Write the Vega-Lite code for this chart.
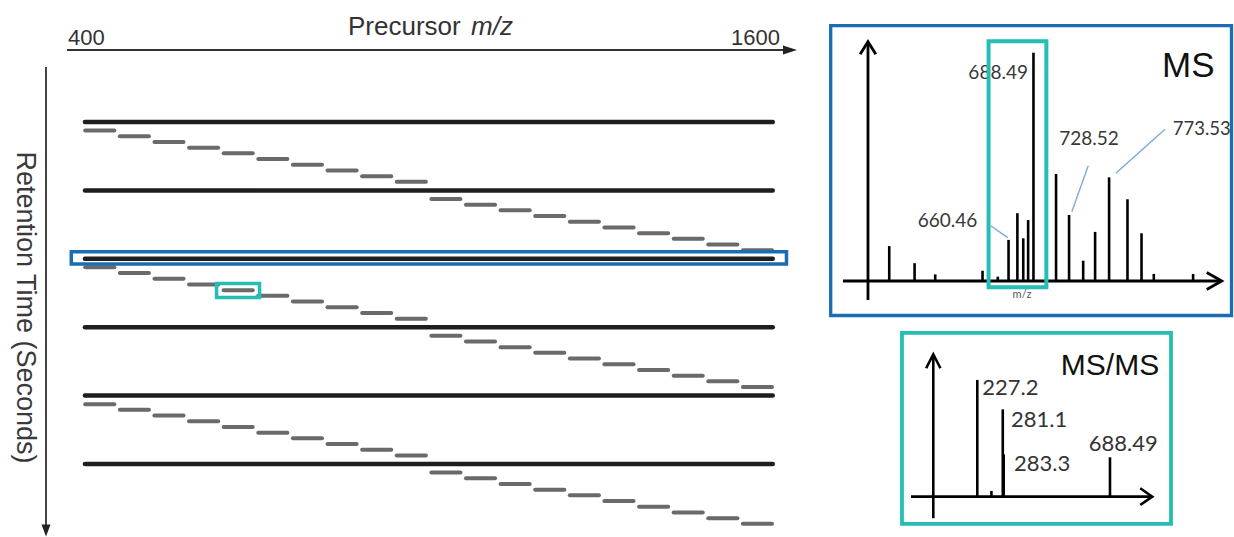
{
  "$schema": "https://vega.github.io/schema/vega-lite/v6.json",
  "width": 1234,
  "height": 537,
  "autosize": {"type": "none"},
  "padding": 0,
  "background": "white",
  "config": {"view": {"stroke": null}, "font": "Liberation Sans"},
  "datasets": {
    "scans": [
      {"type": "MS1", "mz_lo": 400, "mz_hi": 1600, "t": 1.0},
      {"type": "MS1", "mz_lo": 400, "mz_hi": 1600, "t": 2.2},
      {"type": "MS1", "mz_lo": 400, "mz_hi": 1600, "t": 3.4},
      {"type": "MS1", "mz_lo": 400, "mz_hi": 1600, "t": 4.6},
      {"type": "MS1", "mz_lo": 400, "mz_hi": 1600, "t": 5.8},
      {"type": "MS1", "mz_lo": 400, "mz_hi": 1600, "t": 7.0},
      {"type": "MS2", "mz_lo": 400, "mz_hi": 460, "t": 1.15},
      {"type": "MS2", "mz_lo": 460, "mz_hi": 520, "t": 1.25},
      {"type": "MS2", "mz_lo": 520, "mz_hi": 580, "t": 1.35},
      {"type": "MS2", "mz_lo": 580, "mz_hi": 640, "t": 1.45},
      {"type": "MS2", "mz_lo": 640, "mz_hi": 700, "t": 1.55},
      {"type": "MS2", "mz_lo": 700, "mz_hi": 760, "t": 1.65},
      {"type": "MS2", "mz_lo": 760, "mz_hi": 820, "t": 1.75},
      {"type": "MS2", "mz_lo": 820, "mz_hi": 880, "t": 1.85},
      {"type": "MS2", "mz_lo": 880, "mz_hi": 940, "t": 1.95},
      {"type": "MS2", "mz_lo": 940, "mz_hi": 1000, "t": 2.05},
      {"type": "MS2", "mz_lo": 1000, "mz_hi": 1060, "t": 2.35},
      {"type": "MS2", "mz_lo": 1060, "mz_hi": 1120, "t": 2.45},
      {"type": "MS2", "mz_lo": 1120, "mz_hi": 1180, "t": 2.55},
      {"type": "MS2", "mz_lo": 1180, "mz_hi": 1240, "t": 2.65},
      {"type": "MS2", "mz_lo": 1240, "mz_hi": 1300, "t": 2.75},
      {"type": "MS2", "mz_lo": 1300, "mz_hi": 1360, "t": 2.85},
      {"type": "MS2", "mz_lo": 1360, "mz_hi": 1420, "t": 2.95},
      {"type": "MS2", "mz_lo": 1420, "mz_hi": 1480, "t": 3.05},
      {"type": "MS2", "mz_lo": 1480, "mz_hi": 1540, "t": 3.15},
      {"type": "MS2", "mz_lo": 1540, "mz_hi": 1600, "t": 3.25},
      {"type": "MS2", "mz_lo": 400, "mz_hi": 460, "t": 3.55},
      {"type": "MS2", "mz_lo": 460, "mz_hi": 520, "t": 3.65},
      {"type": "MS2", "mz_lo": 520, "mz_hi": 580, "t": 3.75},
      {"type": "MS2", "mz_lo": 580, "mz_hi": 640, "t": 3.85},
      {"type": "MS2", "mz_lo": 640, "mz_hi": 700, "t": 3.95},
      {"type": "MS2", "mz_lo": 700, "mz_hi": 760, "t": 4.05},
      {"type": "MS2", "mz_lo": 760, "mz_hi": 820, "t": 4.15},
      {"type": "MS2", "mz_lo": 820, "mz_hi": 880, "t": 4.25},
      {"type": "MS2", "mz_lo": 880, "mz_hi": 940, "t": 4.35},
      {"type": "MS2", "mz_lo": 940, "mz_hi": 1000, "t": 4.45},
      {"type": "MS2", "mz_lo": 1000, "mz_hi": 1060, "t": 4.75},
      {"type": "MS2", "mz_lo": 1060, "mz_hi": 1120, "t": 4.85},
      {"type": "MS2", "mz_lo": 1120, "mz_hi": 1180, "t": 4.95},
      {"type": "MS2", "mz_lo": 1180, "mz_hi": 1240, "t": 5.05},
      {"type": "MS2", "mz_lo": 1240, "mz_hi": 1300, "t": 5.15},
      {"type": "MS2", "mz_lo": 1300, "mz_hi": 1360, "t": 5.25},
      {"type": "MS2", "mz_lo": 1360, "mz_hi": 1420, "t": 5.35},
      {"type": "MS2", "mz_lo": 1420, "mz_hi": 1480, "t": 5.45},
      {"type": "MS2", "mz_lo": 1480, "mz_hi": 1540, "t": 5.55},
      {"type": "MS2", "mz_lo": 1540, "mz_hi": 1600, "t": 5.65},
      {"type": "MS2", "mz_lo": 400, "mz_hi": 460, "t": 5.95},
      {"type": "MS2", "mz_lo": 460, "mz_hi": 520, "t": 6.05},
      {"type": "MS2", "mz_lo": 520, "mz_hi": 580, "t": 6.15},
      {"type": "MS2", "mz_lo": 580, "mz_hi": 640, "t": 6.25},
      {"type": "MS2", "mz_lo": 640, "mz_hi": 700, "t": 6.35},
      {"type": "MS2", "mz_lo": 700, "mz_hi": 760, "t": 6.45},
      {"type": "MS2", "mz_lo": 760, "mz_hi": 820, "t": 6.55},
      {"type": "MS2", "mz_lo": 820, "mz_hi": 880, "t": 6.65},
      {"type": "MS2", "mz_lo": 880, "mz_hi": 940, "t": 6.75},
      {"type": "MS2", "mz_lo": 940, "mz_hi": 1000, "t": 6.85},
      {"type": "MS2", "mz_lo": 1000, "mz_hi": 1060, "t": 7.15},
      {"type": "MS2", "mz_lo": 1060, "mz_hi": 1120, "t": 7.25},
      {"type": "MS2", "mz_lo": 1120, "mz_hi": 1180, "t": 7.35},
      {"type": "MS2", "mz_lo": 1180, "mz_hi": 1240, "t": 7.45},
      {"type": "MS2", "mz_lo": 1240, "mz_hi": 1300, "t": 7.55},
      {"type": "MS2", "mz_lo": 1300, "mz_hi": 1360, "t": 7.65},
      {"type": "MS2", "mz_lo": 1360, "mz_hi": 1420, "t": 7.75},
      {"type": "MS2", "mz_lo": 1420, "mz_hi": 1480, "t": 7.85},
      {"type": "MS2", "mz_lo": 1480, "mz_hi": 1540, "t": 7.95},
      {"type": "MS2", "mz_lo": 1540, "mz_hi": 1600, "t": 8.05}
    ],
    "left_boxes": [
      {"panel": "MS", "mz_lo": 380.2, "mz_hi": 1619.9, "t_lo": 3.275, "t_hi": 3.49},
      {"panel": "MS/MS", "mz_lo": 632, "mz_hi": 706.5, "t_lo": 3.833, "t_hi": 4.079}
    ],
    "ms_peaks": [
      {"mz": 526.3, "intensity": 15.3},
      {"mz": 554.8, "intensity": 7.8},
      {"mz": 578.0, "intensity": 2.9},
      {"mz": 631.2, "intensity": 4.5},
      {"mz": 648.4, "intensity": 1.9},
      {"mz": 660.46, "intensity": 18.0},
      {"mz": 670.4, "intensity": 29.7},
      {"mz": 677.0, "intensity": 18.7},
      {"mz": 682.5, "intensity": 26.7},
      {"mz": 688.49, "intensity": 100},
      {"mz": 713.9, "intensity": 46.9},
      {"mz": 728.52, "intensity": 28.9},
      {"mz": 744.4, "intensity": 8.9},
      {"mz": 757.8, "intensity": 21.5},
      {"mz": 773.53, "intensity": 45.4},
      {"mz": 794.2, "intensity": 35.8},
      {"mz": 810.0, "intensity": 20.9},
      {"mz": 823.8, "intensity": 3.1},
      {"mz": 868.0, "intensity": 3.1}
    ],
    "ms_labels": [
      {"label": "660.46", "label_mz": 625.3, "label_int": 26.3, "from_mz": 640.4, "from_int": 24.2, "to_mz": 659.5, "to_int": 19.0},
      {"label": "688.49", "label_mz": 682.3, "label_int": 91.0},
      {"label": "728.52", "label_mz": 750.9, "label_int": 62.2, "from_mz": 750.1, "from_int": 50.5, "to_mz": 731.6, "to_int": 30.3},
      {"label": "773.53", "label_mz": 845.1, "label_int": 66.6, "from_mz": 836.4, "from_int": 66.5, "to_mz": 781.1, "to_int": 47.2}
    ],
    "msms_peaks": [
      {"mz": 227.2, "intensity": 100, "label": "227.2", "label_mz": 236.9, "label_int": 92.9},
      {"mz": 255.7, "intensity": 4.9},
      {"mz": 281.1, "intensity": 74.8, "label": "281.1", "label_mz": 301.1, "label_int": 65.7},
      {"mz": 283.3, "intensity": 36.2, "label": "283.3", "label_mz": 308.7, "label_int": 27.8},
      {"mz": 688.49, "intensity": 33.7, "label": "688.49", "label_mz": 769.5, "label_int": 44.9}
    ]
  },
  "layer": [
    {
      "layer": [
        {
          "data": {"name": "scans"},
          "transform": [{"filter": "datum.type == 'MS1'"}],
          "mark": {"type": "rule", "stroke": "#1e1e1e", "strokeWidth": 4.5, "strokeCap": "round", "xOffset": 2.25, "x2Offset": -2.25},
          "encoding": {
            "x": {"field": "mz_lo", "type": "quantitative", "scale": {"domain": [256.65, 2395.6], "nice": false, "zero": false}, "axis": null},
            "x2": {"field": "mz_hi"},
            "y": {"field": "t", "type": "quantitative", "scale": {"domain": [-1.1404, 8.2807], "reverse": true, "nice": false, "zero": false}, "axis": null}
          }
        },
        {
          "data": {"name": "scans"},
          "transform": [{"filter": "datum.type == 'MS2'"}],
          "mark": {"type": "rule", "stroke": "#6a6a6a", "strokeWidth": 4, "strokeCap": "round", "xOffset": 2.5, "x2Offset": -3},
          "encoding": {
            "x": {"field": "mz_lo", "type": "quantitative", "scale": {"domain": [256.65, 2395.6], "nice": false, "zero": false}, "axis": null},
            "x2": {"field": "mz_hi"},
            "y": {"field": "t", "type": "quantitative", "scale": {"domain": [-1.1404, 8.2807], "reverse": true, "nice": false, "zero": false}, "axis": null}
          }
        },
        {
          "data": {"name": "left_boxes"},
          "mark": {"type": "rect", "filled": false, "strokeWidth": 3.5},
          "encoding": {
            "x": {"field": "mz_lo", "type": "quantitative", "scale": {"domain": [256.65, 2395.6], "nice": false, "zero": false}, "axis": null},
            "x2": {"field": "mz_hi"},
            "y": {"field": "t_lo", "type": "quantitative", "scale": {"domain": [-1.1404, 8.2807], "reverse": true, "nice": false, "zero": false}, "axis": null},
            "y2": {"field": "t_hi"},
            "color": {"field": "panel", "type": "nominal", "scale": {"domain": ["MS", "MS/MS"], "range": ["#1b6db3", "#26bdb4"]}, "legend": null}
          }
        },
        {
          "data": {"values": [{}]},
          "mark": {"type": "rule", "stroke": "#333333", "strokeWidth": 2},
          "encoding": {
            "x": {"datum": 372.8, "type": "quantitative", "scale": {"domain": [256.65, 2395.6], "nice": false, "zero": false}, "axis": null},
            "x2": {"datum": 1626},
            "y": {"datum": -0.263, "type": "quantitative", "scale": {"domain": [-1.1404, 8.2807], "reverse": true, "nice": false, "zero": false}, "axis": null}
          }
        },
        {
          "data": {"values": [{}]},
          "mark": {"type": "point", "shape": "M -1 -0.65 L 1 0 L -1 0.65 Z", "size": 196, "filled": true, "fill": "#222222", "opacity": 1, "strokeWidth": 0},
          "encoding": {
            "x": {"datum": 1626.0, "type": "quantitative", "scale": {"domain": [256.65, 2395.6], "nice": false, "zero": false}, "axis": null},
            "y": {"datum": -0.263, "type": "quantitative", "scale": {"domain": [-1.1404, 8.2807], "reverse": true, "nice": false, "zero": false}, "axis": null}
          }
        },
        {
          "data": {"values": [{}]},
          "mark": {"type": "rule", "stroke": "#444444", "strokeWidth": 2},
          "encoding": {
            "x": {"datum": 336.4, "type": "quantitative", "scale": {"domain": [256.65, 2395.6], "nice": false, "zero": false}, "axis": null},
            "y": {"datum": 0.035, "type": "quantitative", "scale": {"domain": [-1.1404, 8.2807], "reverse": true, "nice": false, "zero": false}, "axis": null},
            "y2": {"datum": 8.15}
          }
        },
        {
          "data": {"values": [{}]},
          "mark": {"type": "point", "shape": "M -0.75 -1 L 0 1 L 0.75 -1 Z", "size": 144, "filled": true, "fill": "#222222", "opacity": 1, "strokeWidth": 0},
          "encoding": {
            "x": {"datum": 336.4, "type": "quantitative", "scale": {"domain": [256.65, 2395.6], "nice": false, "zero": false}, "axis": null},
            "y": {"datum": 8.167, "type": "quantitative", "scale": {"domain": [-1.1404, 8.2807], "reverse": true, "nice": false, "zero": false}, "axis": null}
          }
        },
        {
          "data": {"values": [{}]},
          "mark": {"type": "text", "text": "400", "align": "left", "baseline": "alphabetic", "fontSize": 22, "fill": "#333333"},
          "encoding": {
            "x": {"datum": 374.5, "type": "quantitative", "scale": {"domain": [256.65, 2395.6], "nice": false, "zero": false}, "axis": null},
            "y": {"datum": -0.351, "type": "quantitative", "scale": {"domain": [-1.1404, 8.2807], "reverse": true, "nice": false, "zero": false}, "axis": null}
          }
        },
        {
          "data": {"values": [{}]},
          "mark": {"type": "text", "text": "1600", "align": "right", "baseline": "alphabetic", "fontSize": 22, "fill": "#333333"},
          "encoding": {
            "x": {"datum": 1608.7, "type": "quantitative", "scale": {"domain": [256.65, 2395.6], "nice": false, "zero": false}, "axis": null},
            "y": {"datum": -0.351, "type": "quantitative", "scale": {"domain": [-1.1404, 8.2807], "reverse": true, "nice": false, "zero": false}, "axis": null}
          }
        },
        {
          "data": {"values": [{}]},
          "mark": {"type": "text", "text": "Precursor", "align": "left", "baseline": "alphabetic", "fontSize": 26, "fill": "#333333"},
          "encoding": {
            "x": {"datum": 859.9, "type": "quantitative", "scale": {"domain": [256.65, 2395.6], "nice": false, "zero": false}, "axis": null},
            "y": {"datum": -0.5264, "type": "quantitative", "scale": {"domain": [-1.1404, 8.2807], "reverse": true, "nice": false, "zero": false}, "axis": null}
          }
        },
        {
          "data": {"values": [{}]},
          "mark": {"type": "text", "text": "m/z", "align": "left", "baseline": "alphabetic", "fontSize": 26, "fontStyle": "italic", "fill": "#333333"},
          "encoding": {
            "x": {"datum": 1073.1, "type": "quantitative", "scale": {"domain": [256.65, 2395.6], "nice": false, "zero": false}, "axis": null},
            "y": {"datum": -0.5264, "type": "quantitative", "scale": {"domain": [-1.1404, 8.2807], "reverse": true, "nice": false, "zero": false}, "axis": null}
          }
        },
        {
          "data": {"values": [{}]},
          "mark": {"type": "text", "text": "Retention Time (Seconds)", "align": "center", "baseline": "middle", "angle": 90, "fontSize": 27, "fill": "#3a3a3a"},
          "encoding": {
            "x": {"datum": 300.0, "type": "quantitative", "scale": {"domain": [256.65, 2395.6], "nice": false, "zero": false}, "axis": null},
            "y": {"datum": 4.2544, "type": "quantitative", "scale": {"domain": [-1.1404, 8.2807], "reverse": true, "nice": false, "zero": false}, "axis": null}
          }
        }
      ]
    },
    {
      "layer": [
        {
          "data": {"values": [{}]},
          "mark": {"type": "rect", "filled": false, "stroke": "#1b6db3", "strokeWidth": 3.3},
          "encoding": {
            "x": {"datum": 460.48, "type": "quantitative", "scale": {"domain": [-473.65, 913.99], "nice": false, "zero": false}, "axis": null},
            "x2": {"datum": 911.18},
            "y": {"datum": -15.11, "type": "quantitative", "scale": {"domain": [-112.13, 123.08], "nice": false, "zero": false}, "axis": null},
            "y2": {"datum": 111.83}
          }
        },
        {
          "data": {"values": [{}]},
          "mark": {"type": "rule", "stroke": "#000000", "strokeWidth": 2.8},
          "encoding": {
            "x": {"datum": 474.3, "type": "quantitative", "scale": {"domain": [-473.65, 913.99], "nice": false, "zero": false}, "axis": null},
            "x2": {"datum": 899.0},
            "y": {"datum": 0, "type": "quantitative", "scale": {"domain": [-112.13, 123.08], "nice": false, "zero": false}, "axis": null}
          }
        },
        {
          "data": {"values": [{}]},
          "mark": {"type": "rule", "stroke": "#000000", "strokeWidth": 2.8},
          "encoding": {
            "x": {"datum": 502.4, "type": "quantitative", "scale": {"domain": [-473.65, 913.99], "nice": false, "zero": false}, "axis": null},
            "y": {"datum": -8.32, "type": "quantitative", "scale": {"domain": [-112.13, 123.08], "nice": false, "zero": false}, "axis": null},
            "y2": {"datum": 104.3}
          }
        },
        {
          "data": {"values": [{}]},
          "mark": {"type": "point", "shape": "M -1.76 -1 L 0 0 L -1.76 1", "size": 289, "filled": false, "stroke": "#000000", "strokeWidth": 2.8, "opacity": 1, "strokeJoin": "miter"},
          "encoding": {
            "x": {"datum": 900.16, "type": "quantitative", "scale": {"domain": [-473.65, 913.99], "nice": false, "zero": false}, "axis": null},
            "y": {"datum": 0, "type": "quantitative", "scale": {"domain": [-112.13, 123.08], "nice": false, "zero": false}, "axis": null}
          }
        },
        {
          "data": {"values": [{}]},
          "mark": {"type": "point", "shape": "M -1 1.6 L 0 0 L 1 1.6", "size": 246, "filled": false, "stroke": "#000000", "strokeWidth": 2.8, "opacity": 1, "strokeJoin": "miter"},
          "encoding": {
            "x": {"datum": 502.4, "type": "quantitative", "scale": {"domain": [-473.65, 913.99], "nice": false, "zero": false}, "axis": null},
            "y": {"datum": 104.82, "type": "quantitative", "scale": {"domain": [-112.13, 123.08], "nice": false, "zero": false}, "axis": null}
          }
        },
        {
          "data": {"name": "ms_peaks"},
          "mark": {"type": "rule", "stroke": "#000000", "strokeWidth": 2.6},
          "encoding": {
            "x": {"field": "mz", "type": "quantitative", "scale": {"domain": [-473.65, 913.99], "nice": false, "zero": false}, "axis": null},
            "y": {"field": "intensity", "type": "quantitative", "scale": {"domain": [-112.13, 123.08], "nice": false, "zero": false}, "axis": null},
            "y2": {"datum": 0}
          }
        },
        {
          "data": {"name": "ms_labels"},
          "transform": [{"filter": "isValid(datum.from_mz)"}],
          "mark": {"type": "rule", "stroke": "#7aa6d6", "strokeWidth": 1.3},
          "encoding": {
            "x": {"field": "from_mz", "type": "quantitative", "scale": {"domain": [-473.65, 913.99], "nice": false, "zero": false}, "axis": null},
            "x2": {"field": "to_mz"},
            "y": {"field": "from_int", "type": "quantitative", "scale": {"domain": [-112.13, 123.08], "nice": false, "zero": false}, "axis": null},
            "y2": {"field": "to_int"}
          }
        },
        {
          "data": {"name": "ms_labels"},
          "transform": [{"filter": "datum.label == '660.46' || datum.label == '688.49'"}],
          "mark": {"type": "text", "align": "right", "baseline": "middle", "font": "Lato", "fontSize": 19, "fill": "#383838"},
          "encoding": {
            "x": {"field": "label_mz", "type": "quantitative", "scale": {"domain": [-473.65, 913.99], "nice": false, "zero": false}, "axis": null},
            "y": {"field": "label_int", "type": "quantitative", "scale": {"domain": [-112.13, 123.08], "nice": false, "zero": false}, "axis": null},
            "text": {"field": "label"}
          }
        },
        {
          "data": {"name": "ms_labels"},
          "transform": [{"filter": "datum.label == '728.52'"}],
          "mark": {"type": "text", "align": "center", "baseline": "middle", "font": "Lato", "fontSize": 19, "fill": "#383838"},
          "encoding": {
            "x": {"field": "label_mz", "type": "quantitative", "scale": {"domain": [-473.65, 913.99], "nice": false, "zero": false}, "axis": null},
            "y": {"field": "label_int", "type": "quantitative", "scale": {"domain": [-112.13, 123.08], "nice": false, "zero": false}, "axis": null},
            "text": {"field": "label"}
          }
        },
        {
          "data": {"name": "ms_labels"},
          "transform": [{"filter": "datum.label == '773.53'"}],
          "mark": {"type": "text", "align": "left", "baseline": "middle", "font": "Lato", "fontSize": 18.5, "fill": "#383838"},
          "encoding": {
            "x": {"field": "label_mz", "type": "quantitative", "scale": {"domain": [-473.65, 913.99], "nice": false, "zero": false}, "axis": null},
            "y": {"field": "label_int", "type": "quantitative", "scale": {"domain": [-112.13, 123.08], "nice": false, "zero": false}, "axis": null},
            "text": {"field": "label"}
          }
        },
        {
          "data": {"values": [{}]},
          "mark": {"type": "rect", "filled": false, "stroke": "#26bdb4", "strokeWidth": 4},
          "encoding": {
            "x": {"datum": 638, "type": "quantitative", "scale": {"domain": [-473.65, 913.99], "nice": false, "zero": false}, "axis": null},
            "x2": {"datum": 703},
            "y": {"datum": -2.7, "type": "quantitative", "scale": {"domain": [-112.13, 123.08], "nice": false, "zero": false}, "axis": null},
            "y2": {"datum": 105.0}
          }
        },
        {
          "data": {"values": [{}]},
          "mark": {"type": "text", "text": "MS", "align": "center", "baseline": "alphabetic", "fontSize": 35, "fill": "#111111"},
          "encoding": {
            "x": {"datum": 862.6, "type": "quantitative", "scale": {"domain": [-473.65, 913.99], "nice": false, "zero": false}, "axis": null},
            "y": {"datum": 89.5, "type": "quantitative", "scale": {"domain": [-112.13, 123.08], "nice": false, "zero": false}, "axis": null}
          }
        },
        {
          "data": {"values": [{}]},
          "mark": {"type": "text", "text": "m/z", "align": "center", "baseline": "alphabetic", "font": "Lato", "fontSize": 11, "fill": "#555555"},
          "encoding": {
            "x": {"datum": 675.6, "type": "quantitative", "scale": {"domain": [-473.65, 913.99], "nice": false, "zero": false}, "axis": null},
            "y": {"datum": -7.4, "type": "quantitative", "scale": {"domain": [-112.13, 123.08], "nice": false, "zero": false}, "axis": null}
          }
        }
      ]
    },
    {
      "layer": [
        {
          "data": {"values": [{}]},
          "mark": {"type": "rect", "filled": false, "stroke": "#26bdb4", "strokeWidth": 3.8},
          "encoding": {
            "x": {"datum": 121.1, "type": "quantitative", "scale": {"type": "log", "domain": [0.0646, 1940.4], "nice": false}, "axis": null},
            "x2": {"datum": 1146.4},
            "y": {"datum": -23.4, "type": "quantitative", "scale": {"domain": [-34.6, 425.6], "nice": false, "zero": false}, "axis": null},
            "y2": {"datum": 140.3}
          }
        },
        {
          "data": {"values": [{}]},
          "mark": {"type": "rule", "stroke": "#000000", "strokeWidth": 2.6},
          "encoding": {
            "x": {"datum": 130.6, "type": "quantitative", "scale": {"type": "log", "domain": [0.0646, 1940.4], "nice": false}, "axis": null},
            "x2": {"datum": 975},
            "y": {"datum": 0, "type": "quantitative", "scale": {"domain": [-34.6, 425.6], "nice": false, "zero": false}, "axis": null}
          }
        },
        {
          "data": {"values": [{}]},
          "mark": {"type": "rule", "stroke": "#000000", "strokeWidth": 2.6},
          "encoding": {
            "x": {"datum": 157.3, "type": "quantitative", "scale": {"type": "log", "domain": [0.0646, 1940.4], "nice": false}, "axis": null},
            "y": {"datum": -18.5, "type": "quantitative", "scale": {"domain": [-34.6, 425.6], "nice": false, "zero": false}, "axis": null},
            "y2": {"datum": 121.5}
          }
        },
        {
          "data": {"values": [{}]},
          "mark": {"type": "point", "shape": "M -1.44 -1 L 0 0 L -1.44 1", "size": 279, "filled": false, "stroke": "#000000", "strokeWidth": 2.6, "opacity": 1, "strokeJoin": "miter"},
          "encoding": {
            "x": {"datum": 980.2, "type": "quantitative", "scale": {"type": "log", "domain": [0.0646, 1940.4], "nice": false}, "axis": null},
            "y": {"datum": 0, "type": "quantitative", "scale": {"domain": [-34.6, 425.6], "nice": false, "zero": false}, "axis": null}
          }
        },
        {
          "data": {"values": [{}]},
          "mark": {"type": "point", "shape": "M -1 1.96 L 0 0 L 1 1.96", "size": 204, "filled": false, "stroke": "#000000", "strokeWidth": 2.6, "opacity": 1, "strokeJoin": "miter"},
          "encoding": {
            "x": {"datum": 157.3, "type": "quantitative", "scale": {"type": "log", "domain": [0.0646, 1940.4], "nice": false}, "axis": null},
            "y": {"datum": 122.0, "type": "quantitative", "scale": {"domain": [-34.6, 425.6], "nice": false, "zero": false}, "axis": null}
          }
        },
        {
          "data": {"name": "msms_peaks"},
          "mark": {"type": "rule", "stroke": "#000000", "strokeWidth": 2.6},
          "encoding": {
            "x": {"field": "mz", "type": "quantitative", "scale": {"type": "log", "domain": [0.0646, 1940.4], "nice": false}, "axis": null},
            "y": {"field": "intensity", "type": "quantitative", "scale": {"domain": [-34.6, 425.6], "nice": false, "zero": false}, "axis": null},
            "y2": {"datum": 0}
          }
        },
        {
          "data": {"name": "msms_peaks"},
          "transform": [{"filter": "isValid(datum.label) && datum.label != '688.49'"}],
          "mark": {"type": "text", "align": "left", "baseline": "middle", "font": "Lato", "fontSize": 22, "fill": "#333333"},
          "encoding": {
            "x": {"field": "label_mz", "type": "quantitative", "scale": {"type": "log", "domain": [0.0646, 1940.4], "nice": false}, "axis": null},
            "y": {"field": "label_int", "type": "quantitative", "scale": {"domain": [-34.6, 425.6], "nice": false, "zero": false}, "axis": null},
            "text": {"field": "label"}
          }
        },
        {
          "data": {"name": "msms_peaks"},
          "transform": [{"filter": "datum.label == '688.49'"}],
          "mark": {"type": "text", "align": "center", "baseline": "middle", "font": "Lato", "fontSize": 22, "fill": "#333333"},
          "encoding": {
            "x": {"field": "label_mz", "type": "quantitative", "scale": {"type": "log", "domain": [0.0646, 1940.4], "nice": false}, "axis": null},
            "y": {"field": "label_int", "type": "quantitative", "scale": {"domain": [-34.6, 425.6], "nice": false, "zero": false}, "axis": null},
            "text": {"field": "label"}
          }
        },
        {
          "data": {"values": [{}]},
          "mark": {"type": "text", "text": "MS/MS", "align": "center", "baseline": "alphabetic", "fontSize": 30, "fill": "#111111"},
          "encoding": {
            "x": {"datum": 688.5, "type": "quantitative", "scale": {"type": "log", "domain": [0.0646, 1940.4], "nice": false}, "axis": null},
            "y": {"datum": 104.3, "type": "quantitative", "scale": {"domain": [-34.6, 425.6], "nice": false, "zero": false}, "axis": null}
          }
        }
      ]
    }
  ],
  "resolve": {"scale": {"x": "independent", "y": "independent"}}
}
